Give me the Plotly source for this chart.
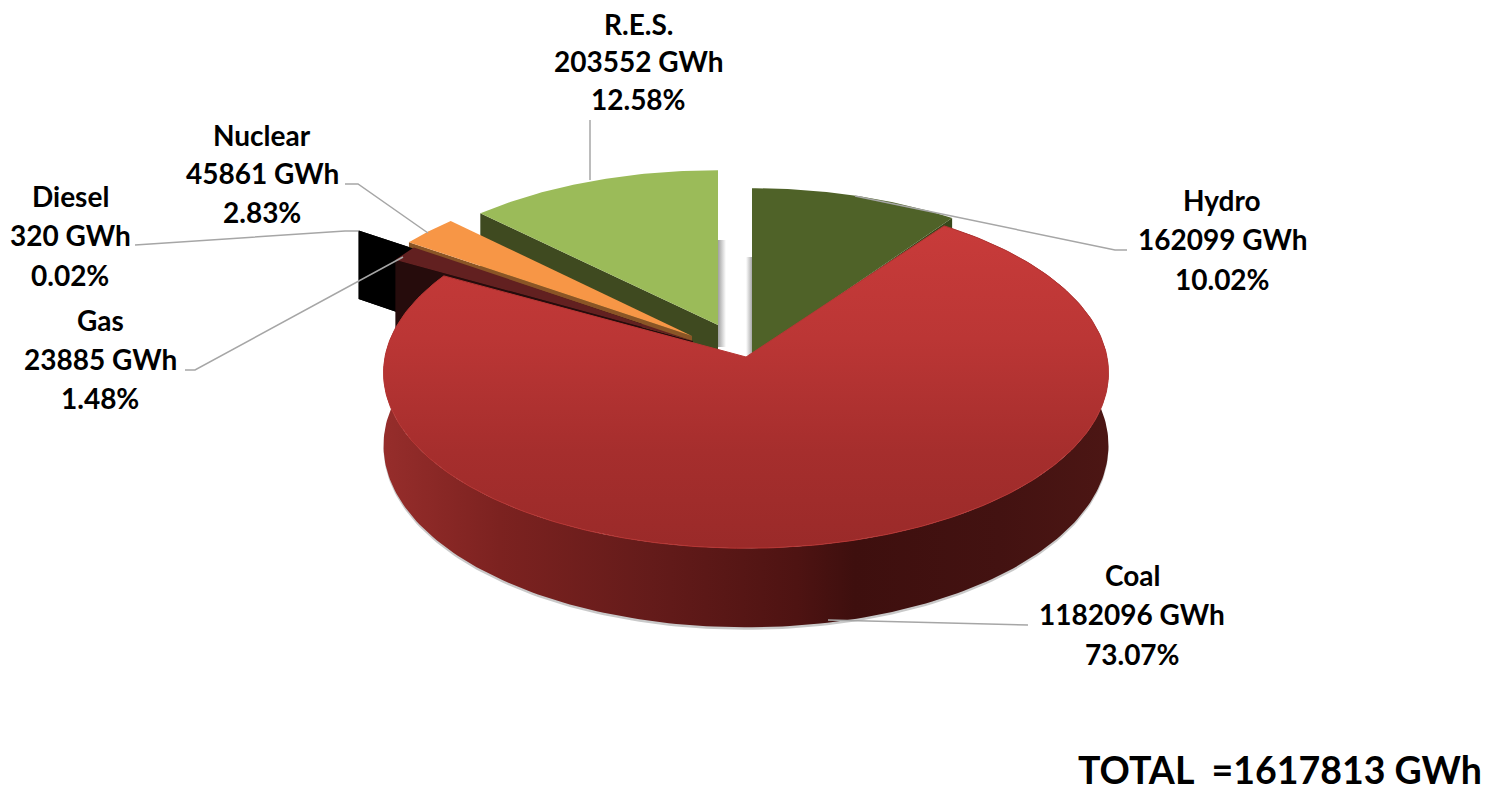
import numpy as np
import plotly.graph_objects as go

# ---- data ----
categories = ["Hydro", "Coal", "Gas", "Diesel", "Nuclear", "R.E.S."]
gwh = [162099, 1182096, 23885, 320, 45861, 203552]
percent = ["10.02%", "73.07%", "1.48%", "0.02%", "2.83%", "12.58%"]
total_label = "TOTAL\u00a0\u00a0=1617813 GWh"

# ---- drawing style (pseudo 3D projection, in page pixels) ----
RX, RY, K = 361.0, 174.0, 0.09
APEX = {"Hydro": (752, 355), "Coal": (746, 357), "Gas": (693, 341),
        "Diesel": (642, 324), "Nuclear": (692, 336), "R.E.S.": (718, 325)}
SCALE = {"Hydro": (1.01, 1.045), "Coal": (1, 1), "Gas": (0.985, 1), "Diesel": (1, 1),
         "Nuclear": (1, 1), "R.E.S.": (0.985, 0.97)}
DEPTH = 72.0
TOPC = {"Hydro": "#4f6228", "Gas": "#622020", "Diesel": "#000000",
        "Nuclear": "#f79646", "R.E.S.": "#9bbb59"}
WALLC = {"Hydro": "#38481b", "Gas": "#260c0c", "Diesel": "#000000",
         "Nuclear": "#8a5526", "R.E.S.": "#3f4a20"}
LINE = "#a6a6a6"
LABEL_POS = {"Hydro": (1222, [200, 239, 279]), "Coal": (1132, [575, 614, 654]),
             "Gas": (100, [320, 359, 398]), "Diesel": (70, [196, 235, 275]),
             "Nuclear": (262, [135, 173, 212]), "R.E.S.": (638, [24, 61, 99])}
LEADERS = {"Hydro": [(855, 196), (1115, 250), (1127, 250)],
           "Coal": [(828, 620), (1028, 625)],
           "Gas": [(185, 370), (195, 370), (403, 257)],
           "Diesel": [(135, 245), (345, 231), (358, 231)],
           "Nuclear": [(345, 184), (358, 184), (428, 233)],
           "R.E.S.": [(590, 120), (590, 180)]}
FONT = "Lato, Carlito, Calibri, sans-serif"

# angles follow from the values, clockwise from 12 o'clock
tot = sum(gwh)
edges = np.concatenate([[0], np.cumsum(gwh)]) / tot * 2 * np.pi
SPAN = {c: (edges[i], edges[i + 1]) for i, c in enumerate(categories)}


def proj(c, th, dz=0.0):
    u, v = np.sin(th), np.cos(th)
    f = 1 / (1 + K * v)
    ax, ay = APEX[c]
    sx, sy = SCALE[c]
    return ax + RX * sx * u * f, ay - RY * sy * v * f + DEPTH * f * dz


def apex(c, dz=0.0):
    return APEX[c][0], APEX[c][1] + DEPTH * dz


def poly(xs, ys, color=None, **kw):
    d = dict(x=list(xs), y=list(ys), mode="lines", fill="toself", hoverinfo="skip",
             showlegend=False, line=dict(width=0, color=color or "rgba(0,0,0,0)"))
    if color:
        d["fillcolor"] = color
    if "line" in kw:
        d["line"] = kw.pop("line")
    d.update(kw)
    return go.Scatter(**d)


def top(c):
    t = np.linspace(*SPAN[c], 60)
    x, y = proj(c, t)
    ax, ay = apex(c)
    return poly([ax, *x, ax], [ay, *y, ay], TOPC[c])


def cut_face(c, th):
    rx0, ry0 = proj(c, th)
    rx1, ry1 = proj(c, th, 1.0)
    ax, ay = apex(c)
    bx, by = apex(c, 1.0)
    return poly([ax, rx0, rx1, bx, ax], [ay, ry0, ry1, by, ay], WALLC[c])


traces = []

# diesel's black cut face, furthest back
traces.append(cut_face("Diesel", SPAN["Diesel"][0]))
# R.E.S.
traces.append(cut_face("R.E.S.", SPAN["R.E.S."][0]))
ax, ay = APEX["R.E.S."]
traces.append(poly([ax, ax + 8, ax + 8, ax], [ay - 85, ay - 85, ay + 22, ay + 22],
                   fillgradient=dict(type="horizontal",
                                     colorscale=[[0, "#a0a0a0"], [1, "#ffffff"]])))
traces.append(top("R.E.S."))
# Hydro
traces.append(cut_face("Hydro", SPAN["Hydro"][1]))
ax, ay = APEX["Hydro"]
traces.append(poly([ax - 6, ax, ax, ax - 6], [ay - 98, ay - 98, ay, ay],
                   fillgradient=dict(type="horizontal",
                                     colorscale=[[0, "#ffffff"], [1, "#a8a8a8"]])))
traces.append(top("Hydro"))
# Nuclear
traces.append(cut_face("Nuclear", SPAN["Nuclear"][0]))
traces.append(top("Nuclear"))
traces.append(cut_face("Diesel", SPAN["Diesel"][0]))
# Gas
traces.append(cut_face("Gas", SPAN["Gas"][0]))
traces.append(top("Gas"))

# Coal: soft shadow, outer wall, top
t = np.linspace(*SPAN["Coal"], 240)
x0, y0 = proj("Coal", t)
x1, y1 = proj("Coal", t, 1.0)
traces.append(poly([*x0, *(x1[::-1])], [*y0, *((y1 + 2.5)[::-1])], "rgba(120,120,120,0.4)"))
traces.append(poly([*x0, *(x1[::-1])], [*y0, *(y1[::-1])],
                   fillgradient=dict(type="horizontal", colorscale=[
                       [0.00, "#962d2b"], [0.16, "#7c2220"], [0.37, "#641b1a"],
                       [0.57, "#4e1312"], [0.65, "#3e0f0e"], [0.85, "#431211"],
                       [1.00, "#4c1614"]])))
ax, ay = APEX["Coal"]
traces.append(poly([ax, *x0, ax], [ay, *y0, ay],
                   line=dict(width=1, color="#b63533"),
                   fillgradient=dict(type="vertical", colorscale=[
                       [0.00, "#9a2a29"], [0.30, "#a62e2d"], [0.65, "#bb3635"],
                       [1.00, "#c83b3a"]])))

# leader lines
for c in categories:
    pts = LEADERS[c]
    traces.append(go.Scatter(x=[p[0] for p in pts], y=[p[1] for p in pts], mode="lines",
                             hoverinfo="skip", showlegend=False,
                             line=dict(color=LINE, width=1.5)))

fig = go.Figure(traces)

# labels
ann = []
for c, v, p in zip(categories, gwh, percent):
    cx, ys = LABEL_POS[c]
    for txt, yy in zip([c, f"{v} GWh", p], ys):
        ann.append(dict(x=cx, y=yy, text=f"<b>{txt}</b>", showarrow=False, xanchor="center",
                        yanchor="middle", font=dict(family=FONT, size=28, color="#000000")))
ann.append(dict(x=1484, y=769, text=f"<b>{total_label}</b>", showarrow=False, xanchor="right",
                yanchor="middle", height=38, font=dict(family=FONT, size=37.5, color="#000000")))

fig.update_layout(
    width=1496, height=790, margin=dict(l=0, r=0, t=0, b=0),
    paper_bgcolor="#ffffff", plot_bgcolor="#ffffff", showlegend=False,
    xaxis=dict(range=[0, 1496], visible=False, fixedrange=True),
    yaxis=dict(range=[790, 0], visible=False, fixedrange=True),
    annotations=ann,
)
fig.write_html("out.html", post_script="document.body.style.margin='0';document.documentElement.style.overflow='hidden';",
               config={"displayModeBar": False})
